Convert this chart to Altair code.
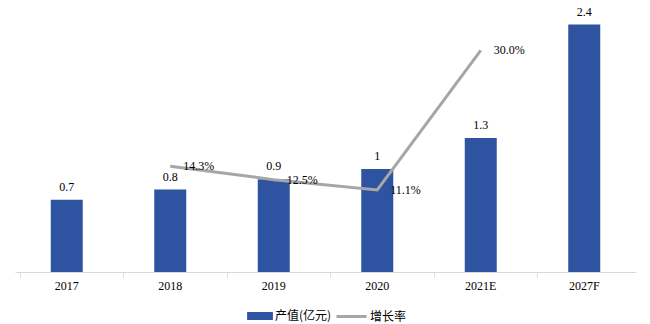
import altair as alt
import pandas as pd

years = ["2017", "2018", "2019", "2020", "2021E", "2027F"]
output = [0.7, 0.8, 0.9, 1.0, 1.3, 2.4]
output_labels = ["0.7", "0.8", "0.9", "1", "1.3", "2.4"]
growth_years = ["2018", "2019", "2020", "2021E"]
growth = [14.3, 12.5, 11.1, 30.0]
growth_labels = ["14.3%", "12.5%", "11.1%", "30.0%"]

bars_df = pd.DataFrame({"year": years, "value": output, "label": output_labels,
                        "series": ["产值(亿元)"] * len(years)})
line_df = pd.DataFrame({"year": growth_years, "growth": growth, "label": growth_labels,
                        "series": ["增长率"] * len(growth_years)})

BLUE = "#2E53A0"
GRAY = "#A6A6A6"
SERIF = "Liberation Serif"
CJK = "Noto Sans CJK SC"

x = alt.X("year:N", sort=years, title=None,
          axis=alt.Axis(labelAngle=0, labelFont=SERIF, labelFontSize=12, labelColor="#000",
                        domainColor="#D9D9D9", tickColor="#D9D9D9", tickSize=5,
                        bandPosition=0, labelPadding=3, grid=False))
y_bar = alt.Y("value:Q", scale=alt.Scale(domain=[0, 2.6]), axis=None)
y_line = alt.Y("growth:Q", scale=alt.Scale(domain=[0, 36.27]), axis=None)

bars = alt.Chart(bars_df).mark_bar(size=32).encode(
    x=x, y=y_bar,
    color=alt.Color("series:N", scale=alt.Scale(domain=["产值(亿元)"], range=[BLUE]),
                    legend=alt.Legend(title=None, orient="none", legendX=236, legendY=303,
                                      symbolType="M-1.6,-0.5H1.6V0.5H-1.6Z",
                                      symbolSize=260, labelFont=CJK, labelFontSize=12,
                                      labelColor="#000", labelOffset=6)),
)
bar_text = alt.Chart(bars_df).mark_text(dy=-13, font=SERIF, fontSize=12, color="#000").encode(
    x=alt.X("year:N", sort=years), y=y_bar, text="label:N")

line = alt.Chart(line_df).mark_line(strokeWidth=3).encode(
    x=alt.X("year:N", sort=years), y=y_line,
    stroke=alt.Stroke("series:N", scale=alt.Scale(domain=["增长率"], range=[GRAY]),
                      legend=alt.Legend(title=None, orient="none", legendX=320, legendY=296,
                                        symbolType="stroke",
                                        symbolStrokeWidth=3, symbolSize=900,
                                        labelFont=CJK, labelFontSize=12,
                                        labelColor="#000", labelOffset=2)),
)
line_text = alt.Chart(line_df).mark_text(align="left", dx=13, baseline="middle", font=SERIF,
                                         fontSize=12, color="#000").encode(
    x=alt.X("year:N", sort=years), y=y_line, text="label:N")

chart = alt.layer(bars, bar_text, line, line_text).resolve_scale(y="independent").properties(
    width=621, height=268,
    autosize=alt.AutoSizeParams(type="none"),
    padding={"left": 15, "top": 4, "right": 14, "bottom": 52},
).configure_view(stroke=None)

chart.save("out.html", embed_options={"renderer": "svg", "actions": False})
